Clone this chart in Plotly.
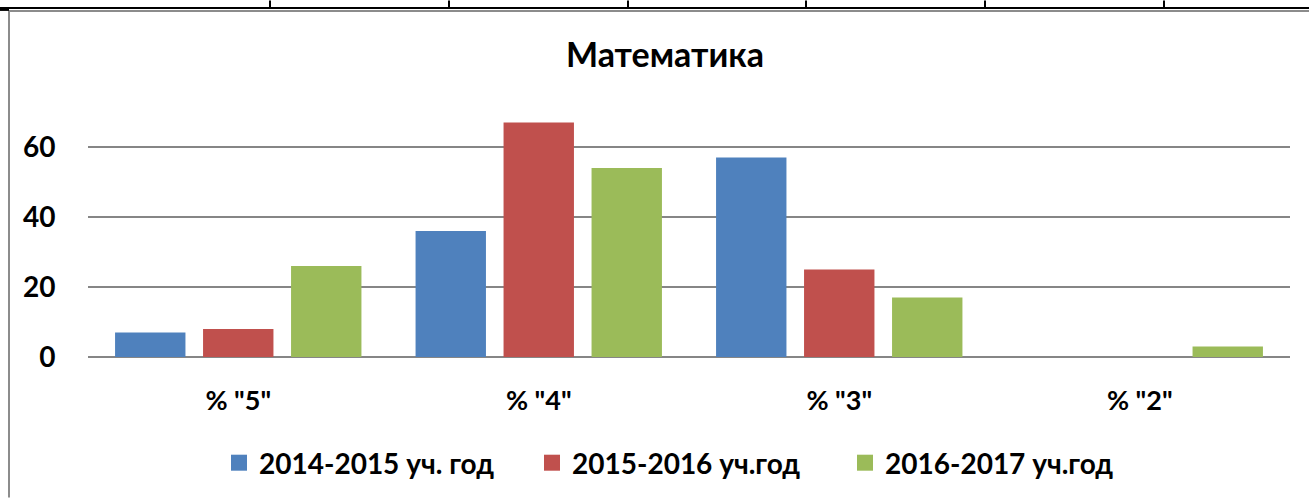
import plotly.graph_objects as go

categories = ['% "5"', '% "4"', '% "3"', '% "2"']
series_names = ["2014-2015 уч. год", "2015-2016 уч.год", "2016-2017 уч.год"]
values_2014 = [7, 36, 57, 0]
values_2015 = [8, 67, 25, 0]
values_2016 = [26, 54, 17, 3]
colors = ["#4F81BD", "#C0504D", "#9BBB59"]
y_ticks = [0, 20, 40, 60]

W, H = 1309, 499
L, R, T, B = 88, 19, 112, 141
FONT = "Lato"

fig = go.Figure()
for name, vals, col in zip(series_names, [values_2014, values_2015, values_2016], colors):
    fig.add_trace(go.Bar(x=categories, y=vals, name=name, showlegend=False,
                         marker=dict(color=col, line=dict(width=0))))
# legend entries with larger square swatches
for name, col in zip(series_names, colors):
    fig.add_trace(go.Scatter(x=[None], y=[None], mode="markers", name=name,
                             marker=dict(symbol="square", size=16, color=col)))

def px(x):
    return (x - L) / (W - L - R)

def py(y):
    return (H - B - y) / (H - T - B)

shapes = []
shapes.append(dict(type="line", xref="paper", yref="paper", x0=px(0), x1=px(W), y0=py(7.5), y1=py(7.5),
                   line=dict(color="black", width=2)))
for xv in [270, 449, 628, 806, 985, 1164]:
    shapes.append(dict(type="line", xref="paper", yref="paper", x0=px(xv), x1=px(xv), y0=py(0), y1=py(7.5),
                       line=dict(color="black", width=2)))
shapes.append(dict(type="line", xref="paper", yref="paper", x0=px(9), x1=px(W), y0=py(10.5), y1=py(10.5),
                   line=dict(color="#8C8C8C", width=2)))
shapes.append(dict(type="line", xref="paper", yref="paper", x0=px(9), x1=px(9), y0=py(10), y1=py(H),
                   line=dict(color="#8C8C8C", width=2)))
shapes.append(dict(type="line", xref="paper", yref="paper", x0=px(0), x1=px(9), y0=py(9.5), y1=py(9.5),
                   line=dict(color="black", width=2)))

fig.update_layout(
    width=W, height=H,
    margin=dict(l=L, r=R, t=T, b=B, pad=0),
    paper_bgcolor="white", plot_bgcolor="white",
    barmode="group", bargap=0.1215, bargroupgap=0.2,
    font=dict(family=FONT, size=22, color="black", weight="bold"),
    title=dict(text="Математика", x=px(665), xanchor="center", xref="paper",
               y=1 - 55 / H, yanchor="middle",
               font=dict(family=FONT, size=34, color="black", weight="bold")),
    showlegend=True,
    legend=dict(orientation="h", x=px(219), xanchor="left", y=py(463), yanchor="middle",
                font=dict(family=FONT, size=28, color="black", weight="bold"),
                itemwidth=30, entrywidth=268, entrywidthmode="pixels",
                bgcolor="rgba(0,0,0,0)"),
    shapes=shapes,
)
fig.update_xaxes(showgrid=False, showline=False, ticks="outside", ticklen=20,
                 tickcolor="rgba(0,0,0,0)",
                 tickfont=dict(family=FONT, size=27, color="black", weight="bold"))
fig.update_yaxes(range=[0, 70], tickvals=y_ticks, showgrid=True, gridcolor="#868686", gridwidth=1.5,
                 zeroline=True, zerolinecolor="#868686", zerolinewidth=1.5, showline=False,
                 ticks="outside", ticklen=26, tickcolor="rgba(0,0,0,0)",
                 tickfont=dict(family=FONT, size=28, color="black", weight="bold"))

fig.write_html("out.html", config={"displayModeBar": False},
               post_script="document.body.style.margin='0';document.body.style.padding='0';")
